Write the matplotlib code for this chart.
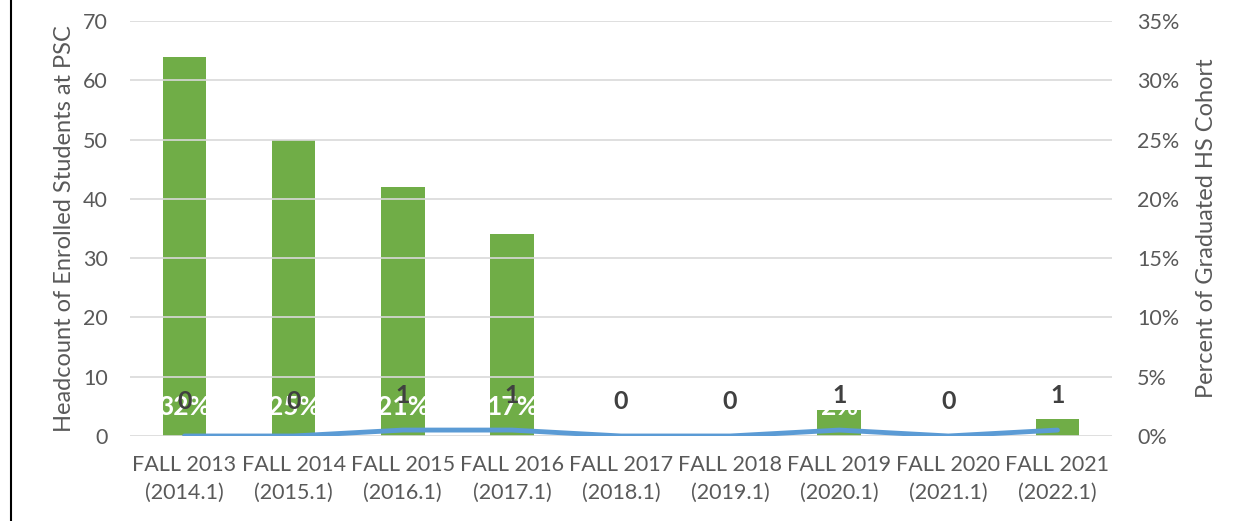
import numpy as np
import matplotlib.pyplot as plt
from matplotlib.lines import Line2D

plt.rcParams['font.family'] = ['Lato', 'DejaVu Sans']

categories = ['FALL 2013\n(2014.1)', 'FALL 2014\n(2015.1)', 'FALL 2015\n(2016.1)',
              'FALL 2016\n(2017.1)', 'FALL 2017\n(2018.1)', 'FALL 2018\n(2019.1)',
              'FALL 2019\n(2020.1)', 'FALL 2020\n(2021.1)', 'FALL 2021\n(2022.1)']
percent = [32, 25, 21, 17, 0, 0, 2.2, 0, 1.45]       # bars, right axis (%)
percentLabels = ['32%', '25%', '21%', '17%', '0%', '0%', '2%', '0%', '1%']
headcount = [0, 0, 1, 1, 0, 0, 1, 0, 1]             # line, left axis

green = '#70AD47'
blue = '#5B9BD5'
gris = '#595959'

fig = plt.figure(figsize=(12.39, 5.21), dpi=100)
ax = fig.add_axes([130/1239, 85/521, 982/1239, 415/521])
ax2 = ax.twinx()

x = np.arange(len(categories))

# barras en eje derecho
ax2.bar(x, percent, width=0.4, color=green, zorder=2)
ax2.set_ylim(0, 35)
ax2.set_yticks(np.arange(0, 36, 5))
ax2.set_yticklabels([f'{v}%' for v in range(0, 36, 5)])
for i, p in enumerate(percent):
    if p >= 2:
        ax2.text(x[i], 2.45, percentLabels[i], ha='center', va='center', color='white',
                 fontsize=19, fontweight='bold', zorder=3, clip_on=True)

# linea en eje izquierdo
ax.set_ylim(0, 70)
ax.set_yticks(np.arange(0, 71, 10))
ax.set_xlim(-0.5, len(categories) - 0.5)
ax.grid(axis='y', color='#D9D9D9', lw=1.2, zorder=0)
ax.set_axisbelow(True)
ax.set_zorder(ax2.get_zorder() + 1)
ax.patch.set_visible(False)
ax.plot(x, headcount, color=blue, lw=3.5, solid_capstyle='round', zorder=4)
for i, h in enumerate(headcount):
    ax.annotate(str(h), (x[i], h), xytext=(0, 25), textcoords='offset points',
                ha='center', va='center', color='#404040', fontsize=18, fontweight='bold')

ax.set_xticks(x)
ax.set_xticklabels(categories, fontsize=15.5, color=gris, linespacing=1.45)
for a in (ax, ax2):
    for s in a.spines.values():
        s.set_visible(False)
    a.tick_params(length=0, labelsize=15.5, labelcolor=gris)
ax.tick_params(axis='y', pad=16)
ax2.tick_params(axis='y', pad=18)
ax.tick_params(axis='x', pad=14)

ax.set_ylabel('Headcount of Enrolled Students at PSC', fontsize=17, color=gris, labelpad=6)
ax2.set_ylabel('Percent of Graduated HS Cohort', fontsize=17, color=gris, labelpad=12)

fig.add_artist(Line2D([11/1239, 11/1239], [0, 1], color='black', lw=1.5))

fig.savefig('out.png', dpi=100)
